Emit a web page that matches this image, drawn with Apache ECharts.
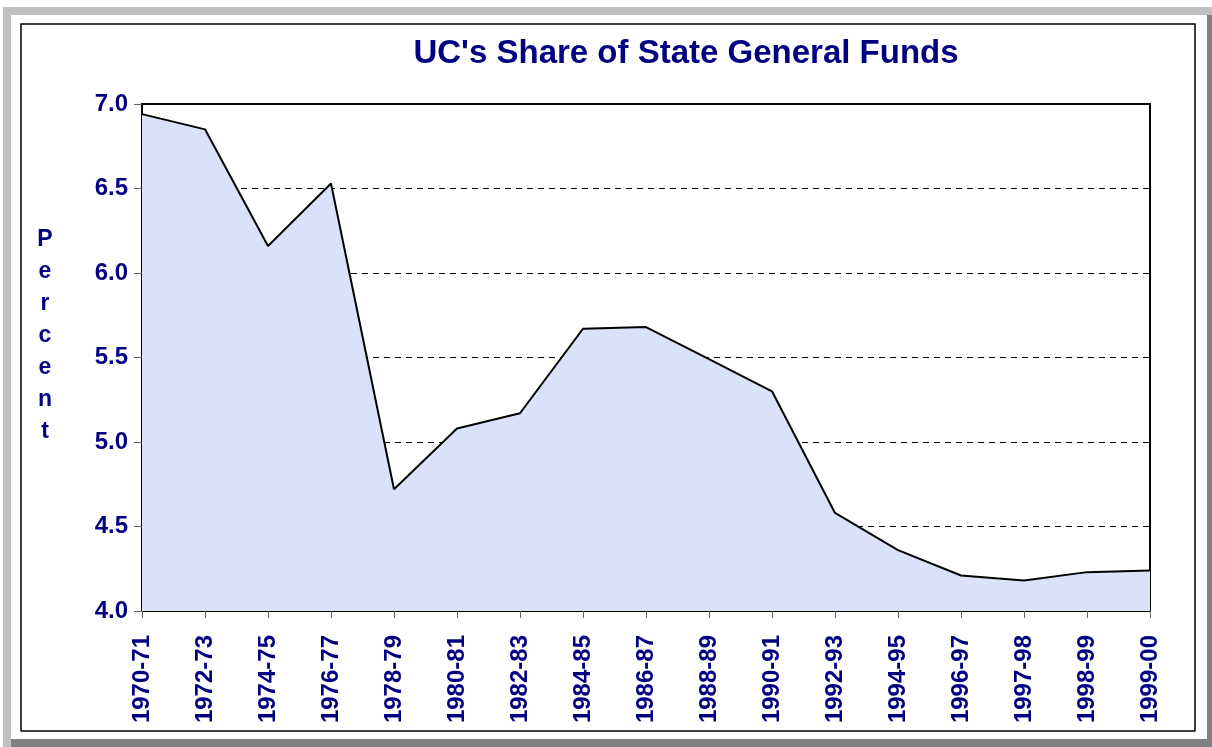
<!DOCTYPE html>
<html>
<head>
<meta charset="utf-8">
<script src="https://cdn.jsdelivr.net/npm/echarts@6/dist/echarts.min.js"></script>
<style>
  html, body { margin: 0; padding: 0; background: #fff; }
  #main { width: 1212px; height: 747px; }
</style>
</head>
<body>
<div id="main"></div>
<script>
var years = ['1970-71', '1972-73', '1974-75', '1976-77', '1978-79', '1980-81', '1982-83',
    '1984-85', '1986-87', '1988-89', '1990-91', '1992-93', '1994-95', '1996-97',
    '1997-98', '1998-99', '1999-00'];
var share = [6.94, 6.85, 6.16, 6.53, 4.72, 5.08, 5.17, 5.67, 5.68, 5.49, 5.30,
    4.58, 4.36, 4.21, 4.18, 4.23, 4.24];
var yTicks = { min: 4.0, max: 7.0, step: 0.5 };

var navy = '#000080';
var font = 'Arial, "Liberation Sans", sans-serif';

var myChart = echarts.init(document.getElementById('main'), null, { width: 1212, height: 747 });

var option = {
    backgroundColor: '#fff',
    animation: false,
    grid: {
        left: 142, right: 62, top: 104, bottom: 136,
        show: true, borderColor: '#000', borderWidth: 2, backgroundColor: 'transparent'
    },
    xAxis: {
        type: 'category',
        data: years,
        boundaryGap: false,
        axisLine: { lineStyle: { color: '#000', width: 2 } },
        axisTick: { show: true, length: 7, lineStyle: { color: '#666' } },
        axisLabel: {
            rotate: 90, margin: 24, interval: 0,
            color: navy, fontSize: 24, fontWeight: 'bold', fontFamily: font
        },
        splitLine: { show: false }
    },
    yAxis: {
        type: 'value',
        min: yTicks.min, max: yTicks.max, interval: yTicks.step,
        axisLine: { show: true, lineStyle: { color: '#000', width: 2 } },
        axisTick: { show: true, length: 8, lineStyle: { color: '#666' } },
        axisLabel: {
            margin: 14, color: navy, fontSize: 24, fontWeight: 'bold', fontFamily: font,
            formatter: function (v) { return v.toFixed(1); }
        },
        splitLine: { show: true, lineStyle: { color: '#000', type: [6, 5], width: 1 } }
    },
    series: [{
        type: 'line',
        data: share,
        symbol: 'none',
        lineStyle: { color: '#000', width: 2 },
        areaStyle: { color: '#d9e2f9', opacity: 1 },
        z: 1
    }],
    graphic: [
        { type: 'rect', shape: { x: 3, y: 7, width: 1209, height: 8 }, style: { fill: '#c0c0c0' }, silent: true },
        { type: 'rect', shape: { x: 3, y: 7, width: 8, height: 740 }, style: { fill: '#c0c0c0' }, silent: true },
        { type: 'rect', shape: { x: 1207, y: 15, width: 5, height: 732 }, style: { fill: '#808080' }, silent: true },
        { type: 'rect', shape: { x: 11, y: 739, width: 1201, height: 8 }, style: { fill: '#808080' }, silent: true },
        { type: 'rect', shape: { x: 21, y: 24, width: 1174, height: 707 }, style: { fill: 'none', stroke: '#000', lineWidth: 1.5 }, silent: true },
        {
            type: 'text', x: 686, y: 54,
            style: {
                text: "UC's Share of State General Funds", fill: navy, fontSize: 33, fontWeight: 'bold',
                fontFamily: font, align: 'center', verticalAlign: 'middle'
            }
        },
        {
            type: 'text', x: 45, y: 224,
            style: {
                text: 'P\ne\nr\nc\ne\nn\nt', fill: navy, fontSize: 23, fontWeight: 'bold',
                fontFamily: font, lineHeight: 32, align: 'center'
            }
        }
    ]
};
myChart.setOption(option);
</script>
</body>
</html>
